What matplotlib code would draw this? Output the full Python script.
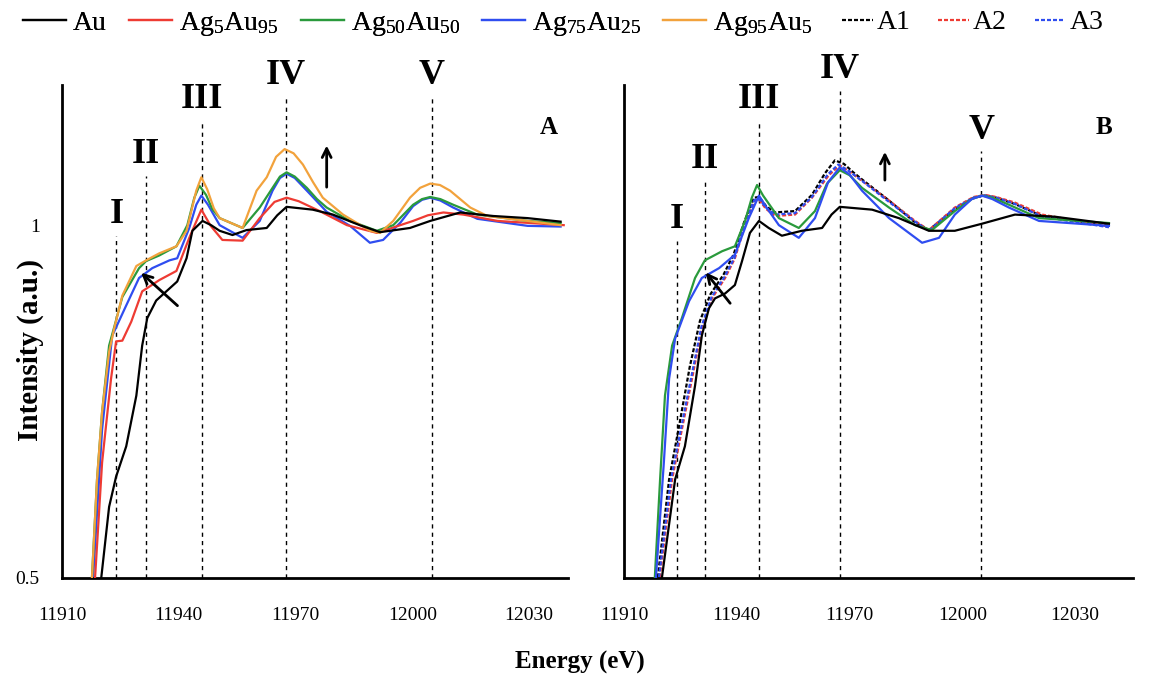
import matplotlib
matplotlib.use("Agg")
import matplotlib.pyplot as plt

plt.rcParams["font.family"] = ["Liberation Serif", "DejaVu Serif"]
plt.rcParams["mathtext.default"] = "regular"

# -----------------------------
# DATA
# -----------------------------
# panel A
au_a_x = [11920.1, 11922.1, 11923.9, 11926.5, 11929.1, 11930.6, 11931.9, 11934.2, 11937.6, 11939.6,
          11942.0, 11943.5, 11946.1, 11948.3, 11950.5, 11953.8, 11957.4, 11962.6, 11965.3, 11967.7,
          11974.4, 11979.6, 11986.5, 11991.7, 11999.4, 12004.6, 12012.3, 12020.8, 12029.6, 12038.1]
au_a_y = [0.501, 0.601, 0.644, 0.687, 0.759, 0.830, 0.869, 0.894, 0.911, 0.921,
          0.954, 0.993, 1.007, 1.001, 0.993, 0.987, 0.994, 0.997, 1.015, 1.027,
          1.023, 1.016, 1.001, 0.991, 0.997, 1.007, 1.019, 1.014, 1.011, 1.006]

ag5_a_x = [11918.5, 11920.3, 11922.6, 11923.9, 11925.5, 11927.8, 11930.6, 11935.0, 11939.4, 11942.7,
           11945.8, 11948.2, 11951.2, 11956.4, 11960.8, 11964.6, 11967.7, 11970.8, 11976.2, 11983.2,
           11990.9, 12000.2, 12004.0, 12008.0, 12013.1, 12021.9, 12038.9]
ag5_a_y = [0.501, 0.664, 0.783, 0.836, 0.837, 0.864, 0.907, 0.923, 0.936, 0.983,
           1.023, 1.000, 0.980, 0.979, 1.011, 1.034, 1.040, 1.035, 1.021, 1.001,
           0.990, 1.007, 1.015, 1.019, 1.016, 1.007, 1.001]

ag50_a_x = [11917.7, 11919.0, 11920.3, 11922.1, 11923.4, 11925.5, 11929.8, 11931.6, 11935.0, 11939.4,
            11942.2, 11944.0, 11945.3, 11947.0, 11948.6, 11950.5, 11956.4, 11960.8, 11964.1, 11966.0,
            11967.7, 11969.8, 11972.9, 11975.5, 11978.0, 11984.0, 11990.9, 11995.1, 12000.2, 12002.5,
            12004.6, 12007.2, 12010.5, 12016.7, 12029.6, 12038.1]
ag50_a_y = [0.501, 0.640, 0.736, 0.830, 0.856, 0.899, 0.940, 0.950, 0.958, 0.971,
            1.001, 1.040, 1.057, 1.044, 1.024, 1.011, 0.997, 1.026, 1.054, 1.070,
            1.076, 1.070, 1.054, 1.038, 1.026, 1.007, 0.993, 1.001, 1.030, 1.038,
            1.041, 1.038, 1.030, 1.016, 1.007, 1.004]

ag75_a_x = [11918.0, 11920.3, 11922.9, 11926.5, 11929.8, 11933.2, 11937.6, 11939.6, 11942.7, 11944.5,
            11945.8, 11947.5, 11950.5, 11956.4, 11960.8, 11964.1, 11966.0, 11967.7, 11969.8, 11972.9,
            11978.0, 11984.0, 11989.1, 11992.5, 11997.0, 12000.2, 12002.5, 12004.6, 12007.2, 12010.5,
            12016.7, 12029.6, 12038.1]
ag75_a_y = [0.501, 0.711, 0.844, 0.887, 0.926, 0.940, 0.951, 0.954, 0.997, 1.030,
            1.043, 1.030, 1.001, 0.983, 1.007, 1.050, 1.068, 1.074, 1.068, 1.050,
            1.020, 1.000, 0.976, 0.980, 1.005, 1.028, 1.037, 1.040, 1.036, 1.026,
            1.010, 1.000, 0.999]

ag95_a_x = [11917.7, 11919.0, 11920.3, 11922.1, 11923.4, 11925.5, 11929.1, 11931.6, 11935.0, 11939.4,
            11942.0, 11944.5, 11945.8, 11947.3, 11949.0, 11950.5, 11956.4, 11960.0, 11962.6, 11965.0,
            11967.2, 11969.5, 11971.9, 11974.5, 11977.0, 11982.2, 11989.1, 11991.7, 11995.1, 11999.4,
            12002.0, 12004.6, 12007.1, 12009.7, 12012.3, 12014.9, 12019.3, 12029.6, 12038.1]
ag95_a_y = [0.501, 0.640, 0.736, 0.821, 0.854, 0.901, 0.943, 0.951, 0.961, 0.971,
            0.993, 1.050, 1.069, 1.052, 1.025, 1.011, 0.997, 1.050, 1.069, 1.098,
            1.109, 1.103, 1.087, 1.062, 1.040, 1.016, 0.993, 0.990, 1.007, 1.040,
            1.054, 1.060, 1.058, 1.050, 1.038, 1.026, 1.014, 1.007, 1.001]

# panel B
au_b_x = [11920.1, 11923.6, 11926.2, 11928.9, 11930.7, 11932.6, 11934.2, 11936.9, 11939.5, 11941.4,
          11943.5, 11945.9, 11948.5, 11952.0, 11957.3, 11962.7, 11965.2, 11967.4, 11976.0, 11983.1,
          11991.1, 11998.0, 12005.2, 12014.0, 12024.6, 12039.0]
au_b_y = [0.501, 0.640, 0.687, 0.773, 0.844, 0.883, 0.897, 0.904, 0.916, 0.950,
          0.990, 1.007, 0.997, 0.986, 0.993, 0.997, 1.016, 1.027, 1.023, 1.011,
          0.993, 0.993, 1.003, 1.016, 1.013, 1.003]

ag50_b_x = [11918.2, 11919.6, 11920.9, 11922.8, 11925.4, 11928.9, 11931.5, 11936.1, 11939.5, 11942.2,
            11944.0, 11945.4, 11947.0, 11951.2, 11956.5, 11960.8, 11964.0, 11967.4, 11970.0, 11973.3,
            11980.5, 11987.4, 11991.9, 11998.0, 12002.5, 12005.2, 12008.0, 12012.4, 12020.4, 12039.0]
ag50_b_y = [0.501, 0.640, 0.759, 0.830, 0.869, 0.926, 0.951, 0.964, 0.971, 1.007,
            1.040, 1.058, 1.043, 1.011, 0.997, 1.021, 1.060, 1.079, 1.072, 1.054,
            1.026, 1.001, 0.994, 1.021, 1.038, 1.043, 1.040, 1.030, 1.011, 1.004]

ag75_b_x = [11918.5, 11920.6, 11922.0, 11923.6, 11927.3, 11930.7, 11935.3, 11939.5, 11943.2, 11945.9,
            11947.8, 11951.2, 11956.5, 11960.8, 11964.3, 11967.4, 11970.0, 11973.3, 11980.5, 11989.3,
            11993.8, 11998.0, 12002.5, 12005.2, 12008.0, 12012.4, 12020.4, 12039.0]
ag75_b_y = [0.501, 0.664, 0.783, 0.840, 0.893, 0.926, 0.940, 0.959, 1.011, 1.043,
            1.027, 1.001, 0.983, 1.011, 1.062, 1.083, 1.073, 1.050, 1.011, 0.976,
            0.983, 1.016, 1.038, 1.043, 1.038, 1.026, 1.007, 1.000]

a1_x = [11919.0, 11922.0, 11924.8, 11927.5, 11930.2, 11933.0, 11936.5, 11939.2, 11942.0, 11944.6,
        11945.9, 11947.8, 11950.0, 11955.5, 11960.0, 11963.5, 11966.1, 11968.5, 11971.0, 11973.3,
        11980.5, 11987.4, 11991.1, 11998.0, 12003.0, 12006.0, 12009.0, 12014.0, 12021.2, 12039.0]
a1_y = [0.501, 0.640, 0.720, 0.800, 0.865, 0.903, 0.931, 0.960, 1.006, 1.040,
        1.041, 1.028, 1.019, 1.021, 1.044, 1.075, 1.093, 1.088, 1.076, 1.066,
        1.036, 1.005, 0.994, 1.024, 1.040, 1.043, 1.040, 1.031, 1.014, 1.000]

a2_x = [11919.5, 11922.8, 11925.4, 11928.1, 11930.7, 11933.4, 11936.9, 11939.5, 11942.2, 11944.8,
        11945.9, 11947.8, 11950.2, 11955.5, 11960.0, 11964.5, 11967.4, 11970.0, 11973.3, 11980.5,
        11987.4, 11991.1, 11998.0, 12003.0, 12006.0, 12009.0, 12014.0, 12021.2, 12039.0]
a2_y = [0.501, 0.640, 0.711, 0.783, 0.854, 0.897, 0.926, 0.954, 1.001, 1.036,
        1.037, 1.024, 1.014, 1.016, 1.040, 1.072, 1.086, 1.077, 1.064, 1.036,
        1.007, 0.994, 1.026, 1.041, 1.044, 1.041, 1.033, 1.016, 0.999]

a3_x = [11919.3, 11922.5, 11925.2, 11928.0, 11930.6, 11933.3, 11936.8, 11939.4, 11942.1, 11944.7,
        11945.9, 11947.8, 11950.1, 11955.5, 11960.0, 11964.2, 11967.0, 11969.8, 11973.3, 11980.5,
        11987.4, 11991.1, 11998.0, 12003.0, 12006.0, 12009.0, 12014.0, 12021.2, 12039.0]
a3_y = [0.501, 0.640, 0.713, 0.788, 0.857, 0.899, 0.928, 0.955, 1.003, 1.037,
        1.038, 1.026, 1.016, 1.018, 1.041, 1.073, 1.087, 1.078, 1.064, 1.034,
        1.006, 0.993, 1.025, 1.040, 1.043, 1.040, 1.031, 1.013, 0.998]

# feature markers (energy) and their labels
feature_x = [11924, 11931.5, 11946, 11967.5, 12005]
feature_labels = ["I", "II", "III", "IV", "V"]
label_y_a = [1.016, 1.101, 1.179, 1.214, 1.214]
label_y_b = [1.009, 1.094, 1.179, 1.222, 1.136]

x_ticks = [11910, 11940, 11970, 12000, 12030]

# -----------------------------
# STYLE
# -----------------------------
C_BLACK = "#000000"
C_RED = "#ee3b33"
C_GREEN = "#2a9a3c"
C_BLUE = "#2f4df0"
C_ORANGE = "#f2a23c"
LW = 1.6
DASH = (0, (1.8, 0.9))

fig = plt.figure(figsize=(11.51, 6.90), dpi=100)
ax_a = fig.add_axes([62 / 1151, 1 - 578 / 690, 506 / 1151, 493 / 690])
ax_b = fig.add_axes([624 / 1151, 1 - 578 / 690, 509 / 1151, 493 / 690])


def style_axis(ax, xmax, show_y):
    ax.set_xlim(11910, xmax)
    ax.set_ylim(0.5, 1.2)
    ax.spines["top"].set_visible(False)
    ax.spines["right"].set_visible(False)
    ax.spines["left"].set_linewidth(2.0)
    ax.spines["bottom"].set_linewidth(2.0)
    ax.set_xticks(x_ticks)
    ax.set_xticklabels([str(t) for t in x_ticks])
    ax.tick_params(axis="x", length=0, pad=21, labelsize=14)
    if show_y:
        ax.set_yticks([0.5, 1.0])
        ax.set_yticklabels(["0.5", "1"])
        ax.tick_params(axis="y", length=0, pad=16, labelsize=14)
    else:
        ax.set_yticks([])


def draw_features(ax, label_y, panel, panel_xy):
    for fx, lab, ly in zip(feature_x, feature_labels, label_y):
        ax.plot([fx, fx], [0.5, ly - 0.03], color="black", lw=1.0,
                ls=(0, (3, 3)), zorder=1, clip_on=False)
        ax.text(fx, ly, lab, ha="center", va="center", fontsize=26,
                fontweight="bold", clip_on=False)
    ax.text(panel_xy[0], panel_xy[1], panel, ha="center", va="center",
            fontsize=18, fontweight="bold")


# -----------------------------
# PANEL A
# -----------------------------
ax_a.plot(au_a_x, au_a_y, color=C_BLACK, lw=LW, zorder=4)
ax_a.plot(ag5_a_x, ag5_a_y, color=C_RED, lw=LW, zorder=3)
ax_a.plot(ag50_a_x, ag50_a_y, color=C_GREEN, lw=LW, zorder=3)
ax_a.plot(ag75_a_x, ag75_a_y, color=C_BLUE, lw=LW, zorder=2)
ax_a.plot(ag95_a_x, ag95_a_y, color=C_ORANGE, lw=LW, zorder=3)
style_axis(ax_a, 12040, True)
draw_features(ax_a, label_y_a, "A", (12035, 1.139))

ax_a.annotate("", xy=(11929.8, 0.936), xytext=(11940.2, 0.884),
              arrowprops=dict(arrowstyle="->", color="black", lw=2, mutation_scale=16))
ax_a.annotate("", xy=(11978.0, 1.118), xytext=(11978.0, 1.051),
              arrowprops=dict(arrowstyle="->", color="black", lw=2, mutation_scale=16))

# -----------------------------
# PANEL B
# -----------------------------
ax_b.plot(au_b_x, au_b_y, color=C_BLACK, lw=LW, zorder=4)
ax_b.plot(ag50_b_x, ag50_b_y, color=C_GREEN, lw=LW, zorder=3)
ax_b.plot(ag75_b_x, ag75_b_y, color=C_BLUE, lw=LW, zorder=3)
ax_b.plot(a1_x, a1_y, color=C_BLACK, lw=LW, ls=DASH, zorder=2)
ax_b.plot(a2_x, a2_y, color=C_RED, lw=LW, ls=DASH, zorder=2)
ax_b.plot(a3_x, a3_y, color=C_BLUE, lw=LW, ls=DASH, zorder=2)
style_axis(ax_b, 12045.4, False)
draw_features(ax_b, label_y_b, "B", (12037.7, 1.139))

ax_b.annotate("", xy=(11931.3, 0.937), xytext=(11938.7, 0.887),
              arrowprops=dict(arrowstyle="->", color="black", lw=2, mutation_scale=16))
ax_b.annotate("", xy=(11979.4, 1.109), xytext=(11979.4, 1.061),
              arrowprops=dict(arrowstyle="->", color="black", lw=2, mutation_scale=16))

# -----------------------------
# LEGEND (two groups on one line) + AXIS TITLES
# -----------------------------
solid_handles = [plt.Line2D([], [], color=c, lw=LW)
                 for c in [C_BLACK, C_RED, C_GREEN, C_BLUE, C_ORANGE]]
solid_labels = ["Au", "Ag$_{5}$Au$_{95}$", "Ag$_{50}$Au$_{50}$", "Ag$_{75}$Au$_{25}$",
                "Ag$_{95}$Au$_{5}$"]
dash_handles = [plt.Line2D([], [], color=c, lw=LW, ls=DASH)
                for c in [C_BLACK, C_RED, C_BLUE]]
dash_labels = ["A1", "A2", "A3"]

leg1 = fig.legend(solid_handles, solid_labels, loc="upper left",
                  bbox_to_anchor=(23 / 1151, 1 - 10 / 690), ncol=5, frameon=False,
                  fontsize=20, handlelength=1.55, handletextpad=0.25,
                  columnspacing=0.8, borderpad=0, borderaxespad=0)
fig.add_artist(leg1)
fig.legend(dash_handles, dash_labels, loc="upper left",
           bbox_to_anchor=(842 / 1151, 1 - 10 / 690), ncol=3, frameon=False,
           fontsize=20, handlelength=1.1, handletextpad=0.15,
           columnspacing=1.0, borderpad=0, borderaxespad=0)

fig.text(30 / 1151, 1 - 350 / 690, "Intensity (a.u.)", rotation=90, ha="center",
         va="center", fontsize=21, fontweight="bold")
fig.text(580 / 1151, 1 - 662 / 690, "Energy (eV)", ha="center", va="center",
         fontsize=18, fontweight="bold")

fig.savefig("out.png", dpi=100)
